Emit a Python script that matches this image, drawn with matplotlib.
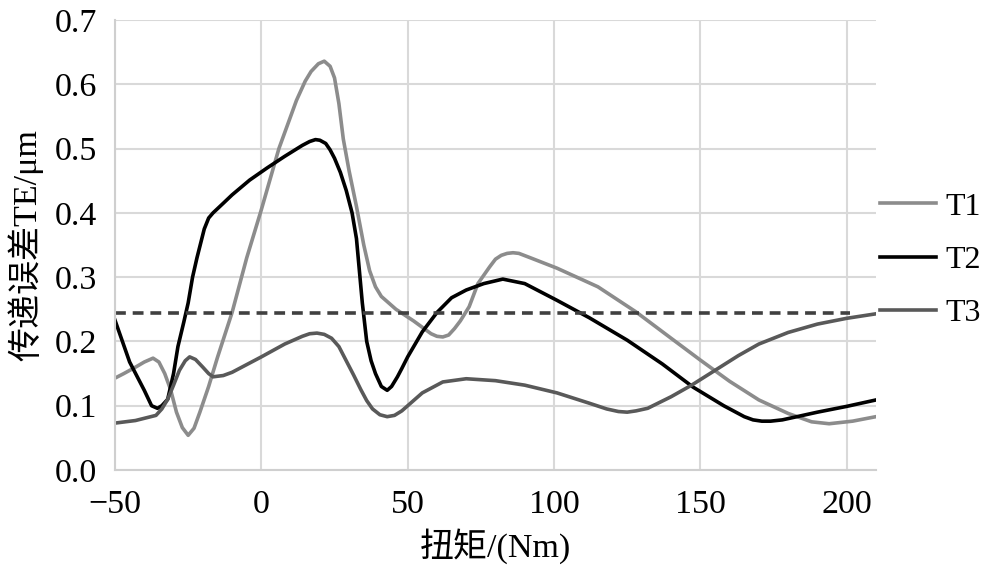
import numpy as np
import matplotlib
matplotlib.use("Agg")
import matplotlib.pyplot as plt

# values
t1_x = [-50, -47, -43, -40, -37, -35, -33, -31, -29, -27, -25, -23, -21, -18, -15, -10, -5, 0, 6, 12,
        15, 17, 19.5, 21.5, 23.5, 25, 26.5, 28, 30, 32.5, 35, 37, 39, 41, 44, 46, 52, 58, 60, 62, 64, 66,
        68, 71, 74, 78, 80, 82, 84, 86, 88, 92, 101, 115, 128, 140, 150, 160, 170, 180, 188, 194, 202, 210]
t1_y = [0.143, 0.150, 0.160, 0.168, 0.174, 0.168, 0.150, 0.125, 0.090, 0.066, 0.054, 0.065, 0.090, 0.130,
        0.175, 0.245, 0.330, 0.405, 0.500, 0.575, 0.605, 0.620, 0.632, 0.636, 0.628, 0.610, 0.570, 0.515,
        0.465, 0.410, 0.350, 0.310, 0.285, 0.270, 0.258, 0.250, 0.232, 0.212, 0.208, 0.207, 0.210, 0.220,
        0.232, 0.254, 0.290, 0.316, 0.328, 0.334, 0.337, 0.338, 0.337, 0.330, 0.314, 0.285, 0.246, 0.205,
        0.171, 0.138, 0.109, 0.088, 0.075, 0.072, 0.076, 0.083]

t2_x = [-50, -45, -40, -37.5, -35.5, -34, -32, -30, -28.5, -26.5, -25, -23.5, -22, -19.5, -18, -16.5,
        -13, -10, -4, 2, 8, 14, 16.5, 18.5, 20, 22, 23.5, 25, 27, 29, 31, 32.5, 33.5, 34.5, 36, 37.5, 39,
        41, 43, 44.5, 46.5, 48, 50, 55, 60, 65, 70, 76, 82.5, 90, 101, 112, 125, 137, 147.5, 158, 165,
        168, 171, 174, 178, 190, 200, 210]
t2_y = [0.233, 0.168, 0.124, 0.100, 0.096, 0.100, 0.110, 0.150, 0.192, 0.230, 0.260, 0.300, 0.330, 0.375,
        0.392, 0.400, 0.415, 0.428, 0.451, 0.470, 0.488, 0.505, 0.511, 0.514, 0.513, 0.508, 0.498, 0.485,
        0.463, 0.435, 0.400, 0.360, 0.310, 0.260, 0.200, 0.170, 0.150, 0.130, 0.124, 0.130, 0.145, 0.158,
        0.176, 0.215, 0.245, 0.268, 0.280, 0.290, 0.297, 0.290, 0.264, 0.237, 0.202, 0.165, 0.129, 0.100,
        0.083, 0.078, 0.076, 0.076, 0.078, 0.090, 0.099, 0.109]

t3_x = [-50, -43, -36, -34, -32, -30, -28, -26, -24.5, -22.5, -20, -18, -16.5, -13, -10, 0, 8, 14,
        16.5, 19, 21.5, 24, 26.5, 29, 31.5, 34, 36, 38, 40.5, 43, 45.5, 48, 55, 62, 70, 80, 90, 101, 112,
        118, 122, 125, 128, 132, 140, 147, 155, 163, 170, 180, 190, 200, 210]
t3_y = [0.073, 0.077, 0.085, 0.095, 0.110, 0.132, 0.155, 0.170, 0.176, 0.172, 0.160, 0.150, 0.145, 0.147,
        0.152, 0.176, 0.196, 0.208, 0.212, 0.213, 0.211, 0.205, 0.192, 0.170, 0.148, 0.125, 0.108, 0.095,
        0.086, 0.083, 0.085, 0.092, 0.120, 0.137, 0.142, 0.139, 0.132, 0.120, 0.104, 0.095, 0.091, 0.090,
        0.092, 0.096, 0.114, 0.132, 0.155, 0.178, 0.196, 0.214, 0.227, 0.236, 0.243]

limit_x = [-50, 201]
limit_y = [0.245, 0.245]

x_ticks = [-50, 0, 50, 100, 150, 200]
y_ticks = [0.0, 0.1, 0.2, 0.3, 0.4, 0.5, 0.6, 0.7]

plt.rcParams['font.family'] = ['Liberation Serif', 'Noto Sans CJK SC']
plt.rcParams['font.size'] = 24.5

fig = plt.figure(figsize=(9.88, 5.77), dpi=100)
ax = fig.add_axes([0.1164, 0.1854, 0.7702, 0.7799])

ax.plot(t1_x, t1_y, color='#8c8c8c', lw=2.6, label='T1', solid_joinstyle='round')
ax.plot(t2_x, t2_y, color='#000000', lw=2.6, label='T2', solid_joinstyle='round')
ax.plot(t3_x, t3_y, color='#595959', lw=2.6, label='T3', solid_joinstyle='round')
ax.plot(limit_x, limit_y, color='#404040', lw=2.6, dashes=(3, 1.9))

ax.set_xlim(-50, 210)
ax.set_ylim(0, 0.7)
ax.set_xticks(x_ticks)
ax.set_yticks(y_ticks)
ax.set_yticklabels(['%.1f' % v for v in y_ticks])
ax.grid(True, color='#d9d9d9', lw=1.5)
ax.set_axisbelow(True)
for s in ['top', 'right']:
    ax.spines[s].set_visible(False)
for s in ['left', 'bottom']:
    ax.spines[s].set_color('#cfcfcf')
    ax.spines[s].set_linewidth(1.5)
ax.tick_params(length=0)
ax.tick_params(axis='y', pad=13)
ax.tick_params(axis='x', pad=14)

ax.set_xlabel('扭矩/(Nm)', labelpad=6)
ax.set_ylabel('传递误差TE/μm', labelpad=8)

fig.legend(loc='center left', bbox_to_anchor=(0.891, 0.549), frameon=False,
           borderaxespad=0, borderpad=0, handlelength=1.75, handletextpad=0.3,
           labelspacing=0.75, fontsize=23)

fig.savefig('out.png', dpi=100)
